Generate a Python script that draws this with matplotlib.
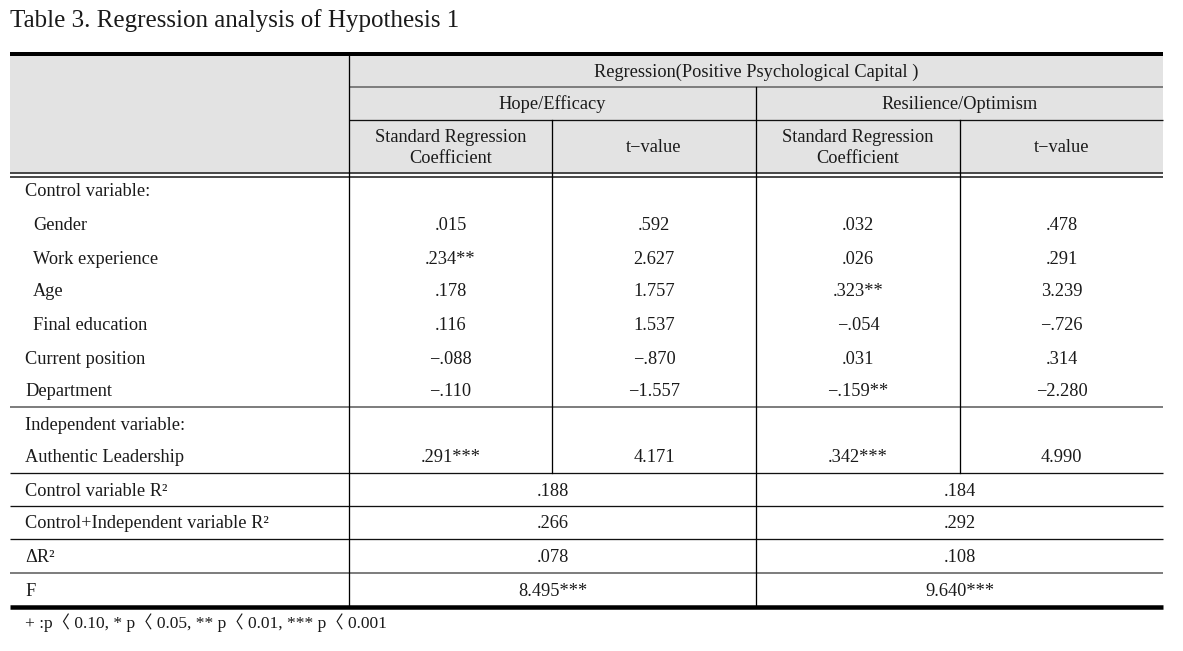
import matplotlib
matplotlib.use("Agg")
import matplotlib.pyplot as plt
from matplotlib.patches import Rectangle

# ---------------- data ----------------
title = "Table 3. Regression analysis of Hypothesis 1"
group_header = "Regression(Positive Psychological Capital )"
sub_headers = ["Hope/Efficacy", "Resilience/Optimism"]
col_headers = ["Standard Regression\nCoefficient", "t\u2212value",
               "Standard Regression\nCoefficient", "t\u2212value"]

row_labels = ["Control variable:", "Gender", "Work experience", "Age",
              "Final education", "Current position", "Department",
              "Independent variable:", "Authentic Leadership"]
row_indent = [False, True, True, True, True, False, False, False, False]

hope_coef = ["", ".015", ".234**", ".178", ".116", "\u2212.088", "\u2212.110", "", ".291***"]
hope_t = ["", ".592", "2.627", "1.757", "1.537", "\u2212.870", "\u22121.557", "", "4.171"]
res_coef = ["", ".032", ".026", ".323**", "\u2212.054", ".031", "\u2212.159**", "", ".342***"]
res_t = ["", ".478", ".291", "3.239", "\u2212.726", ".314", "\u22122.280", "", "4.990"]

summary_labels = ["Control variable R\u00b2", "Control+Independent variable R\u00b2",
                  "\u0394R\u00b2", "F"]
hope_summary = [".188", ".266", ".078", "8.495***"]
res_summary = [".184", ".292", ".108", "9.640***"]

footnote = "+ :p\u3008 0.10, * p\u3008 0.05, ** p\u3008 0.01, *** p\u3008 0.001"

# ---------------- layout (pixel space) ----------------
W, H = 1183, 651
fig = plt.figure(figsize=(W / 100, H / 100), dpi=100)
ax = fig.add_axes([0, 0, 1, 1])
ax.set_xlim(0, W)
ax.set_ylim(H, 0)
ax.axis("off")

FONT = "Liberation Serif"
FS = 13.2
TC = "#1a1a1a"

x_left, x_right = 10, 1163
x_v1, x_v2, x_v3, x_v4 = 349, 552, 756, 960
col_centers = [(x_v1 + x_v2) / 2, (x_v2 + x_v3) / 2, (x_v3 + x_v4) / 2, (x_v4 + x_right) / 2]
merged_centers = [(x_v1 + x_v3) / 2, (x_v3 + x_right) / 2]

y_top = 53.5
y_h1 = 87
y_h2 = 120
y_dbl1, y_dbl2 = 172.7, 176.7
row_y = [192, 225, 259, 292, 325, 359, 392, 425, 458]
y_sep_ind = 407
y_sep_sum = [473, 506, 539, 573]
sum_y = [492, 524, 557, 591]
y_bot = 606.5

lw1 = 72 / 100  # 1 px in points

# header gray background
ax.add_patch(Rectangle((x_left, y_top), x_right - x_left, y_dbl1 - y_top,
                       facecolor="#e3e3e3", edgecolor="none", zorder=0))

# horizontal lines
ax.plot([x_left, x_right], [y_top, y_top], color="black", lw=4 * lw1, solid_capstyle="butt")
ax.plot([x_v1, x_right], [y_h1, y_h1], color="#7f7f7f", lw=2 * lw1, solid_capstyle="butt")
ax.plot([x_v1, x_right], [y_h2, y_h2], color="#111111", lw=1.3 * lw1, solid_capstyle="butt")
for yy in (y_dbl1, y_dbl2):
    ax.plot([x_left, x_right], [yy, yy], color="#3a3a3a", lw=1.8 * lw1, solid_capstyle="butt")
ax.plot([x_left, x_right], [y_sep_ind, y_sep_ind], color="#7f7f7f", lw=2 * lw1, solid_capstyle="butt")
for i, yy in enumerate(y_sep_sum):
    c = "#7f7f7f" if i == 3 else "#111111"
    lw = 2 * lw1 if i == 3 else 1.3 * lw1
    ax.plot([x_left, x_right], [yy, yy], color=c, lw=lw, solid_capstyle="butt")
ax.plot([x_left, x_right], [y_bot, y_bot], color="black", lw=4.5 * lw1, solid_capstyle="butt")

# vertical lines
ax.plot([x_v1, x_v1], [y_top, y_bot], color="black", lw=1.3 * lw1)
ax.plot([x_v3, x_v3], [y_h1, y_bot], color="black", lw=1.3 * lw1)
ax.plot([x_v2, x_v2], [y_h2, y_sep_sum[0]], color="black", lw=1.3 * lw1)
ax.plot([x_v4, x_v4], [y_h2, y_sep_sum[0]], color="black", lw=1.3 * lw1)

# title
ax.text(x_left, 21, title, fontsize=18, family=FONT, color=TC, ha="left", va="center")

# header text
ax.text((x_v1 + x_right) / 2, 72, group_header, fontsize=FS, family=FONT, color=TC,
        ha="center", va="center")
for cx, s in zip(merged_centers, sub_headers):
    ax.text(cx, 104.5, s, fontsize=FS, family=FONT, color=TC, ha="center", va="center")
for cx, s in zip(col_centers, col_headers):
    ax.text(cx, 148, s, fontsize=FS, family=FONT, color=TC, ha="center", va="center",
            linespacing=1.25, multialignment="center")

# body rows
for i, lab in enumerate(row_labels):
    y = row_y[i]
    ax.text(33 if row_indent[i] else 25, y, lab, fontsize=FS, family=FONT, color=TC,
            ha="left", va="center")
    for cx, vals in zip(col_centers, (hope_coef, hope_t, res_coef, res_t)):
        if vals[i]:
            ax.text(cx, y, vals[i], fontsize=FS, family=FONT, color=TC,
                    ha="center", va="center")

# summary rows
for i, lab in enumerate(summary_labels):
    y = sum_y[i]
    ax.text(25, y, lab, fontsize=FS, family=FONT, color=TC, ha="left", va="center")
    ax.text(merged_centers[0], y, hope_summary[i], fontsize=FS, family=FONT, color=TC,
            ha="center", va="center")
    ax.text(merged_centers[1], y, res_summary[i], fontsize=FS, family=FONT, color=TC,
            ha="center", va="center")

# footnote
ax.text(x_left + 15, 623, footnote, fontsize=12.5, family=[FONT, "Noto Sans CJK KR"],
        color=TC, ha="left", va="center")

fig.savefig("out.png", dpi=100, facecolor="white")
